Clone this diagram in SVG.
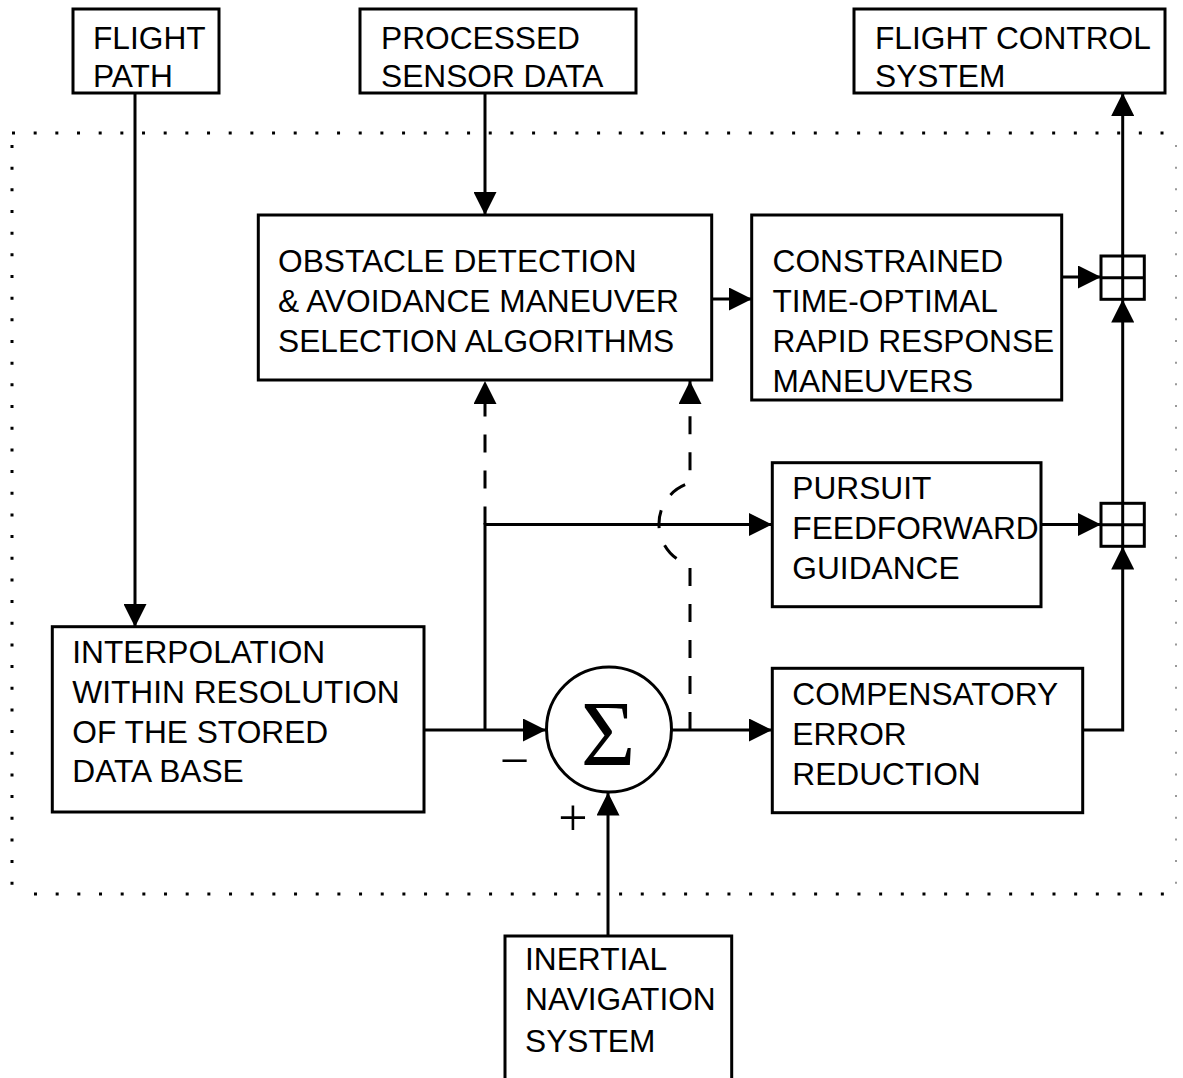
<svg xmlns="http://www.w3.org/2000/svg" width="1183" height="1078" viewBox="0 0 1183 1078">
<style>
.box{fill:#fff;stroke:#000;stroke-width:3}
.ln{fill:none;stroke:#000;stroke-width:3}
.dash{fill:none;stroke:#000;stroke-width:3;stroke-dasharray:18 18}
.dot{fill:none;stroke:#000;stroke-width:3;stroke-dasharray:3 18.67}
.dotg{fill:none;stroke:#999;stroke-width:2;stroke-dasharray:2 19.67}
.t{font-family:"Liberation Sans",Arial,Helvetica,sans-serif;font-size:31.7px;fill:#000}
.s{font-family:"Liberation Serif","Times New Roman",serif;fill:#000}
</style>
<defs>
<marker id="ah" viewBox="0 0 23 23" refX="23" refY="11.5" markerWidth="23" markerHeight="23" markerUnits="userSpaceOnUse" orient="auto">
<path d="M0,0 L23,11.5 L0,23 z" fill="#000"/>
</marker>
</defs>
<rect width="1183" height="1078" fill="#fff"/>
<g id="boundary">
<line class="dot" x1="12" y1="133" x2="1176" y2="133"/>
<line class="dot" x1="12" y1="145" x2="12" y2="894"/>
<line class="dot" x1="34" y1="894" x2="1176" y2="894"/>
<line class="dotg" x1="1176" y1="145" x2="1176" y2="894"/>
</g>
<g id="connectors">
<line class="ln" x1="135" y1="93" x2="135" y2="627" marker-end="url(#ah)"/>
<line class="ln" x1="485" y1="93" x2="485" y2="215" marker-end="url(#ah)"/>
<line class="ln" x1="712" y1="299" x2="752" y2="299" marker-end="url(#ah)"/>
<line class="ln" x1="1062" y1="277" x2="1101" y2="277" marker-end="url(#ah)"/>
<line class="ln" x1="1041" y1="524.5" x2="1101" y2="524.5" marker-end="url(#ah)"/>
<line class="ln" x1="1122.7" y1="256" x2="1122.7" y2="93" marker-end="url(#ah)"/>
<line class="ln" x1="1122.7" y1="503" x2="1122.7" y2="299.5" marker-end="url(#ah)"/>
<polyline class="ln" points="1083,730 1122.7,730 1122.7,546.5" marker-end="url(#ah)"/>
<line class="ln" x1="424" y1="730" x2="546" y2="730" marker-end="url(#ah)"/>
<polyline class="ln" points="485,730 485,524.5 772,524.5" marker-end="url(#ah)"/>
<line class="ln" x1="672" y1="730" x2="772" y2="730" marker-end="url(#ah)"/>
<line class="ln" x1="608" y1="936" x2="608" y2="792.5" marker-end="url(#ah)"/>
<line class="dash" x1="485" y1="524.5" x2="485" y2="381" marker-end="url(#ah)"/>
<path class="dash" d="M690,730 L690,565 A42.6,42.6 0 0 1 690,483 L690,381" marker-end="url(#ah)"/>
</g>
<g id="flight-path">
<rect class="box" x="73" y="9" width="146" height="84"/>
<text class="t"><tspan x="93" y="49">FLIGHT</tspan><tspan x="93" y="87">PATH</tspan></text>
</g>
<g id="processed-sensor-data">
<rect class="box" x="360" y="9" width="276" height="84"/>
<text class="t"><tspan x="381" y="49">PROCESSED</tspan><tspan x="381" y="87">SENSOR DATA</tspan></text>
</g>
<g id="flight-control-system">
<rect class="box" x="854" y="9" width="311" height="84"/>
<text class="t"><tspan x="875" y="49">FLIGHT CONTROL</tspan><tspan x="875" y="87">SYSTEM</tspan></text>
</g>
<g id="obstacle-detection">
<rect class="box" x="258.3" y="215" width="453.4" height="165"/>
<text class="t"><tspan x="278" y="271.7">OBSTACLE DETECTION</tspan><tspan x="278" y="311.7">&amp; AVOIDANCE MANEUVER</tspan><tspan x="278" y="351.7">SELECTION ALGORITHMS</tspan></text>
</g>
<g id="constrained-maneuvers">
<rect class="box" x="751.7" y="215" width="310" height="185"/>
<text class="t"><tspan x="772.5" y="271.7">CONSTRAINED</tspan><tspan x="772.5" y="311.5">TIME-OPTIMAL</tspan><tspan x="772.5" y="351.7">RAPID RESPONSE</tspan><tspan x="772.5" y="391.7">MANEUVERS</tspan></text>
</g>
<g id="pursuit-feedforward">
<rect class="box" x="772.3" y="462.7" width="268.7" height="144"/>
<text class="t"><tspan x="792.3" y="499">PURSUIT</tspan><tspan x="792.3" y="539">FEEDFORWARD</tspan><tspan x="792.3" y="578.5">GUIDANCE</tspan></text>
</g>
<g id="compensatory-error">
<rect class="box" x="772.3" y="668.3" width="310.4" height="144.4"/>
<text class="t"><tspan x="792.3" y="705">COMPENSATORY</tspan><tspan x="792.3" y="745">ERROR</tspan><tspan x="792.3" y="784.5">REDUCTION</tspan></text>
</g>
<g id="interpolation">
<rect class="box" x="52.3" y="626.7" width="371.7" height="185.3"/>
<text class="t"><tspan x="72.3" y="663.3">INTERPOLATION</tspan><tspan x="72.3" y="703.3">WITHIN RESOLUTION</tspan><tspan x="72.3" y="742.8">OF THE STORED</tspan><tspan x="72.3" y="782.3">DATA BASE</tspan></text>
</g>
<g id="inertial-navigation">
<rect class="box" x="505" y="936" width="226.7" height="160"/>
<text class="t"><tspan x="525" y="970">INERTIAL</tspan><tspan x="525" y="1010">NAVIGATION</tspan><tspan x="525" y="1051.7">SYSTEM</tspan></text>
</g>
<g id="summing-junction">
<circle class="box" cx="609" cy="729.5" r="62.5"/>
<text class="s" x="608" y="765" font-size="94" text-anchor="middle">Σ</text>
<text class="s" x="514.5" y="778" font-size="52" text-anchor="middle">−</text>
<text class="s" x="573" y="835" font-size="52" text-anchor="middle">+</text>
</g>
<g id="sum-node-upper">
<rect class="box" x="1101" y="256" width="43.3" height="43.3"/>
<line class="ln" x1="1122.7" y1="256" x2="1122.7" y2="299.3"/>
<line class="ln" x1="1101" y1="277.7" x2="1144.3" y2="277.7"/>
</g>
<g id="sum-node-lower">
<rect class="box" x="1101" y="503.3" width="43.3" height="43"/>
<line class="ln" x1="1122.7" y1="503.3" x2="1122.7" y2="546.3"/>
<line class="ln" x1="1101" y1="524.8" x2="1144.3" y2="524.8"/>
</g>
</svg>
